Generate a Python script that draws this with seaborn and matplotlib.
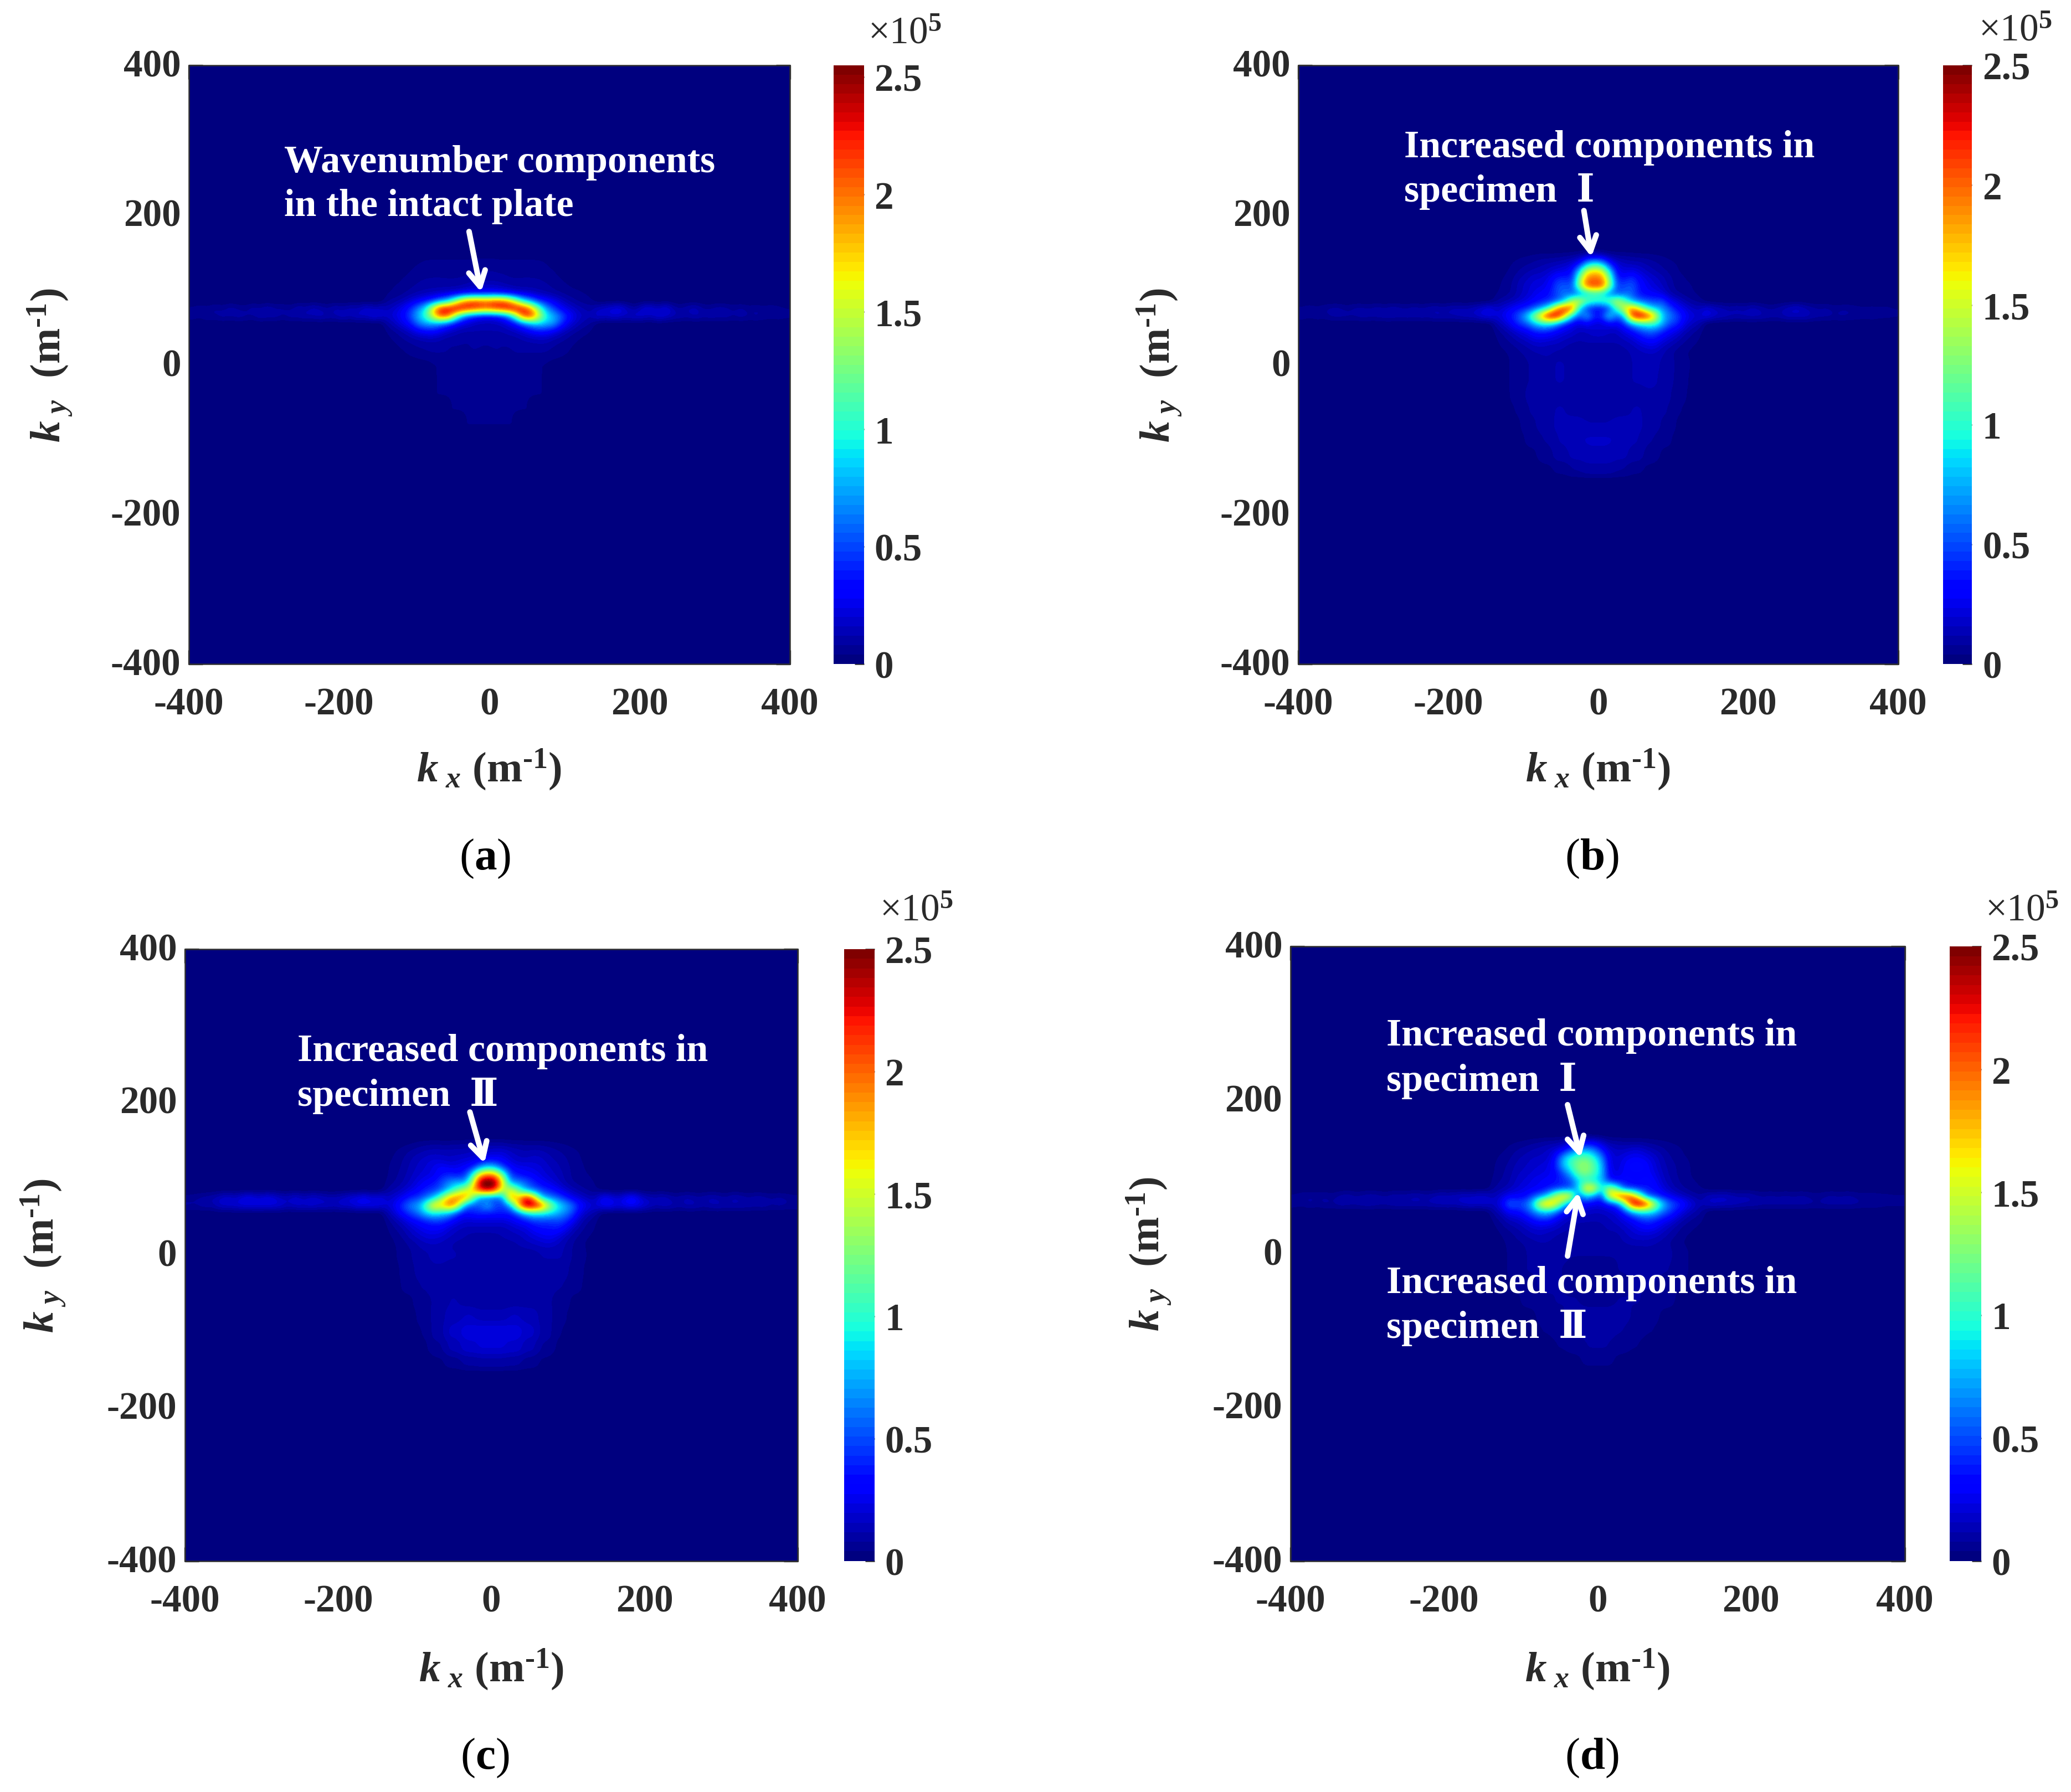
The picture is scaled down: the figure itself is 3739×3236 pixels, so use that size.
import numpy as np
import matplotlib
matplotlib.use("Agg")
import matplotlib.pyplot as plt
from matplotlib.transforms import ScaledTranslation
import seaborn as sns

sns.set_theme(style="white")
plt.rcParams['font.family'] = ['Liberation Serif', 'DejaVu Serif', 'Noto Sans CJK SC']
plt.rcParams['mathtext.fontset'] = 'custom'
plt.rcParams['mathtext.rm'] = 'Liberation Serif:bold'
plt.rcParams['mathtext.it'] = 'Liberation Serif:italic:bold'
plt.rcParams['mathtext.bf'] = 'Liberation Serif:bold'

# values x 1e5. Central blocks: ky 145..15 (step 10), kx -135..135 (step 10)
block_a = [
[.0,.01,.01,.02,.02,.03,.03,.03,.03,.03,.03,.03,.03,.03,.03,.03,.03,.03,.03,.03,.03,.03,.02,.02,.01,.01,.0,.0],
[.01,.01,.02,.03,.04,.05,.05,.05,.05,.05,.05,.05,.06,.06,.06,.05,.05,.05,.05,.05,.05,.04,.03,.03,.02,.01,.01,.0],
[.01,.02,.03,.04,.05,.06,.07,.07,.06,.06,.07,.07,.08,.08,.08,.07,.07,.06,.07,.07,.06,.05,.04,.03,.02,.01,.01,.01],
[.02,.03,.04,.05,.07,.08,.08,.08,.08,.08,.08,.1,.1,.1,.1,.1,.08,.08,.08,.08,.08,.07,.05,.04,.03,.02,.02,.01],
[.03,.04,.05,.07,.09,.1,.1,.1,.1,.1,.12,.14,.16,.16,.16,.14,.12,.1,.1,.1,.1,.09,.07,.05,.04,.03,.03,.02],
[.04,.05,.07,.1,.12,.14,.16,.18,.2,.22,.25,.3,.32,.34,.34,.32,.28,.22,.2,.18,.14,.12,.1,.08,.06,.05,.04,.03],
[.08,.1,.14,.2,.28,.36,.45,.65,.85,1.35,1.9,2.1,2.15,2.05,2.15,2.15,1.95,1.45,.95,.7,.45,.36,.26,.18,.12,.08,.06,.05],
[.14,.2,.28,.42,.65,.95,1.7,2.35,2.4,2.5,2.4,2.3,2.2,2.1,2.2,2.3,2.4,2.45,2.35,1.95,1.3,.75,.5,.3,.22,.16,.12,.1],
[.18,.24,.32,.5,.8,1.05,1.6,2.15,2.1,1.3,.7,.45,.32,.28,.28,.36,.6,1.2,2.15,2.25,1.65,1.0,.8,.6,.36,.22,.16,.12],
[.1,.16,.26,.36,.6,.75,.75,.65,.5,.32,.22,.18,.14,.14,.14,.16,.22,.34,.55,.75,.9,.8,.75,.45,.26,.16,.1,.08],
[.05,.08,.12,.18,.28,.32,.35,.26,.18,.14,.12,.12,.12,.12,.12,.12,.14,.16,.22,.3,.36,.36,.28,.18,.12,.08,.06,.04],
[.03,.05,.08,.1,.12,.14,.14,.12,.1,.1,.08,.08,.1,.08,.1,.08,.1,.1,.12,.14,.16,.16,.12,.1,.07,.05,.03,.02],
[.02,.03,.05,.07,.08,.09,.1,.1,.08,.08,.08,.08,.08,.08,.08,.08,.08,.1,.1,.1,.1,.1,.08,.06,.05,.03,.02,.01],
[.01,.02,.03,.05,.06,.07,.08,.08,.08,.06,.06,.08,.08,.06,.08,.08,.06,.08,.08,.08,.08,.08,.06,.05,.04,.02,.01,.01],
]
block_b = [
[.0,.01,.02,.03,.04,.05,.06,.06,.06,.07,.08,.1,.15,.2,.16,.1,.08,.08,.07,.06,.06,.05,.04,.03,.02,.01,.0,.0],
[.01,.02,.04,.06,.07,.09,.11,.12,.14,.16,.2,.32,.75,.95,.8,.38,.2,.16,.14,.14,.11,.09,.07,.05,.04,.02,.01,.0],
[.02,.03,.05,.08,.11,.13,.14,.18,.22,.24,.32,.85,1.55,1.7,1.6,.9,.28,.22,.25,.2,.15,.12,.09,.07,.04,.03,.02,.01],
[.03,.04,.07,.12,.15,.2,.2,.26,.4,.42,.38,1.25,1.95,2.0,1.95,1.25,.38,.35,.45,.3,.22,.18,.14,.09,.06,.04,.03,.02],
[.03,.05,.08,.14,.18,.22,.22,.3,.5,.55,.5,1.35,2.05,2.15,2.1,1.35,.5,.5,.55,.35,.26,.2,.16,.1,.06,.05,.04,.03],
[.04,.06,.08,.14,.18,.25,.3,.35,.5,.6,.5,.55,.8,.95,.85,.55,.45,.55,.55,.35,.3,.28,.22,.12,.08,.06,.04,.03],
[.08,.1,.14,.18,.24,.3,.35,.4,.5,.75,1.45,1.6,1.2,1.1,1.1,1.2,1.55,1.15,.7,.55,.5,.45,.5,.28,.2,.12,.08,.06],
[.16,.22,.28,.35,.4,.55,.75,1.1,1.9,2.3,2.1,.85,.4,.28,.28,.45,1.1,1.6,2.0,1.55,1.05,.8,.7,.5,.32,.24,.16,.14],
[.2,.28,.38,.55,.85,1.35,1.95,2.5,2.45,1.75,.85,.5,.8,.4,.45,.95,.5,.85,2.2,2.5,2.3,1.8,.85,.65,.5,.3,.22,.2],
[.12,.18,.3,.45,.55,.8,.95,.95,.7,.4,.28,.2,.3,.2,.2,.3,.28,.42,.75,.95,1.05,1.05,.8,.5,.42,.24,.16,.12],
[.06,.1,.16,.22,.28,.38,.42,.38,.28,.24,.2,.15,.15,.2,.2,.15,.15,.24,.32,.46,.55,.55,.42,.3,.24,.14,.09,.06],
[.04,.07,.1,.15,.18,.24,.24,.22,.2,.16,.14,.12,.14,.14,.14,.14,.14,.16,.2,.28,.36,.36,.26,.2,.14,.09,.06,.04],
[.03,.05,.07,.09,.12,.15,.16,.14,.14,.12,.1,.1,.1,.1,.1,.1,.1,.12,.14,.18,.22,.24,.16,.12,.09,.06,.04,.03],
[.02,.03,.05,.07,.09,.11,.12,.12,.1,.1,.08,.08,.08,.08,.08,.08,.1,.1,.12,.14,.15,.15,.12,.09,.06,.04,.03,.02],
]
block_c = [
[.01,.02,.03,.04,.06,.07,.08,.07,.07,.08,.08,.1,.1,.1,.1,.1,.08,.08,.07,.07,.07,.06,.05,.04,.03,.02,.01,.01],
[.02,.04,.06,.09,.11,.13,.14,.14,.14,.14,.14,.16,.16,.18,.2,.2,.16,.14,.12,.14,.13,.11,.09,.07,.05,.04,.02,.01],
[.03,.05,.08,.12,.15,.18,.2,.18,.16,.18,.2,.22,.25,.3,.3,.28,.2,.16,.16,.18,.17,.13,.11,.09,.06,.04,.03,.02],
[.04,.06,.09,.13,.17,.2,.25,.3,.25,.25,.3,.35,.65,.85,.75,.45,.3,.25,.25,.22,.2,.16,.13,.1,.07,.05,.03,.03],
[.04,.07,.1,.15,.19,.22,.25,.35,.4,.35,.4,.95,1.75,2.0,1.85,1.2,.45,.35,.3,.28,.22,.18,.15,.11,.07,.05,.04,.03],
[.06,.08,.12,.17,.24,.3,.35,.5,.65,.75,.7,1.35,2.5,2.7,2.55,1.6,.7,.65,.55,.4,.3,.24,.18,.12,.08,.06,.05,.04],
[.09,.12,.17,.23,.3,.4,.45,.55,.85,1.15,1.5,1.75,2.2,2.4,2.15,1.4,1.6,1.15,.7,.55,.45,.38,.3,.2,.14,.1,.07,.05],
[.16,.22,.28,.4,.45,.6,.8,1.3,1.8,2.0,1.95,1.3,.6,.5,.45,.7,1.95,1.7,2.35,1.85,.85,.65,.55,.4,.26,.2,.14,.12],
[.2,.28,.48,.65,.75,1.2,1.8,1.75,2.1,1.7,.7,.5,.55,.8,.5,.45,.75,1.8,2.55,2.5,2.2,1.5,1.0,.8,.6,.36,.25,.2],
[.12,.22,.36,.48,.62,.85,.95,.85,.75,.45,.3,.38,.42,.38,.38,.38,.36,.55,.85,.95,.95,.9,.8,.65,.5,.25,.14,.1],
[.06,.12,.18,.28,.33,.4,.45,.45,.35,.25,.2,.2,.2,.2,.2,.2,.25,.3,.35,.45,.45,.45,.48,.45,.3,.14,.08,.05],
[.04,.08,.12,.18,.24,.28,.3,.28,.2,.16,.14,.14,.14,.14,.14,.14,.16,.2,.22,.3,.35,.35,.38,.3,.16,.1,.06,.04],
[.03,.05,.09,.14,.18,.22,.22,.2,.16,.14,.12,.1,.1,.1,.1,.12,.14,.14,.18,.22,.25,.28,.24,.16,.1,.07,.04,.03],
[.02,.04,.06,.09,.12,.15,.16,.14,.12,.1,.1,.08,.08,.08,.1,.1,.1,.12,.14,.16,.18,.2,.16,.12,.08,.05,.03,.02],
]
block_d = [
[.01,.02,.03,.04,.05,.07,.08,.1,.1,.12,.16,.22,.26,.26,.18,.1,.1,.08,.08,.08,.07,.06,.05,.04,.03,.02,.01,.01],
[.02,.03,.05,.08,.1,.12,.14,.16,.2,.28,.5,.7,.75,.62,.38,.2,.16,.16,.2,.2,.15,.12,.09,.06,.05,.03,.02,.01],
[.03,.05,.07,.11,.13,.16,.16,.18,.32,.75,1.0,1.15,1.2,1.0,.65,.25,.18,.25,.28,.28,.24,.18,.12,.08,.05,.04,.03,.02],
[.04,.06,.09,.13,.15,.18,.2,.22,.38,.8,1.05,1.3,1.35,1.15,.8,.25,.2,.28,.35,.35,.3,.2,.13,.1,.07,.05,.03,.03],
[.04,.07,.1,.15,.17,.2,.22,.25,.3,.5,.8,1.2,1.3,1.1,.8,.3,.2,.3,.3,.3,.3,.23,.15,.1,.07,.05,.03,.03],
[.06,.08,.11,.17,.2,.25,.28,.3,.35,.4,.5,.85,.95,.85,.8,.35,.3,.35,.3,.3,.35,.28,.17,.12,.08,.05,.04,.03],
[.08,.1,.14,.19,.24,.25,.28,.35,.4,.45,.5,.85,1.75,1.7,.85,1.5,1.1,.45,.4,.35,.35,.33,.22,.14,.1,.07,.05,.04],
[.14,.2,.28,.3,.3,.45,.6,.85,1.45,1.8,1.65,.5,.85,.65,.45,1.65,2.05,2.35,2.0,1.25,.5,.42,.32,.26,.18,.14,.1,.08],
[.16,.28,.6,.5,.55,.85,1.65,1.95,1.7,1.05,.55,.36,.3,.25,.25,.36,.5,1.15,2.4,2.6,2.25,1.4,.85,.55,.45,.3,.2,.12],
[.1,.16,.3,.32,.42,.6,.8,.85,.65,.35,.22,.18,.18,.16,.16,.18,.22,.42,.75,.95,.95,.85,.6,.45,.3,.18,.12,.08],
[.05,.1,.16,.18,.24,.34,.42,.42,.28,.18,.15,.13,.13,.12,.13,.15,.18,.24,.3,.42,.48,.42,.32,.26,.16,.1,.07,.05],
[.03,.06,.1,.12,.16,.2,.22,.2,.18,.14,.12,.1,.1,.1,.1,.14,.14,.18,.22,.28,.32,.28,.2,.14,.09,.06,.04,.03],
[.02,.04,.06,.09,.12,.15,.16,.14,.12,.1,.1,.08,.08,.08,.08,.1,.1,.14,.18,.2,.2,.18,.14,.1,.07,.04,.03,.02],
[.01,.03,.05,.07,.08,.1,.12,.12,.1,.08,.08,.08,.08,.08,.08,.08,.1,.12,.14,.14,.14,.12,.1,.07,.05,.03,.02,.01],
]

# faint lower halo: ky 0..-150 (step 20), kx -130..130 (step 20)
halo_a = [
[.01,.02,.03,.04,.05,.05,.04,.04,.05,.05,.04,.03,.02,.01],
[.01,.02,.03,.04,.04,.04,.04,.04,.04,.04,.04,.03,.02,.01],
[.0,.01,.03,.04,.04,.04,.04,.04,.04,.04,.04,.03,.01,.0],
[.0,.01,.02,.03,.04,.04,.04,.04,.04,.04,.03,.02,.01,.0],
[.0,.01,.02,.03,.03,.04,.04,.04,.04,.03,.03,.02,.01,.0],
[.0,.0,.01,.02,.02,.03,.03,.03,.03,.02,.02,.01,.0,.0],
[0,0,0,.01,.01,.01,.02,.02,.01,.01,.01,0,0,0],
[0,0,0,0,0,0,.01,.01,0,0,0,0,0,0],
]
halo_b = [
[.02,.05,.08,.11,.12,.1,.1,.1,.1,.12,.13,.11,.06,.03],
[.02,.05,.08,.11,.12,.1,.08,.08,.1,.12,.13,.1,.06,.02],
[.02,.05,.09,.11,.1,.08,.08,.08,.08,.1,.11,.09,.05,.02],
[.01,.04,.08,.11,.12,.1,.08,.08,.1,.12,.11,.08,.04,.01],
[.01,.03,.07,.1,.13,.14,.12,.12,.14,.13,.1,.07,.03,.01],
[.0,.02,.05,.08,.12,.15,.16,.16,.15,.12,.08,.05,.02,.0],
[.0,.01,.03,.06,.1,.13,.15,.15,.13,.1,.06,.03,.01,.0],
[0,0,.01,.03,.05,.08,.1,.1,.08,.05,.03,.01,0,0],
]
halo_c = [
[.03,.07,.11,.13,.12,.1,.08,.08,.1,.1,.12,.12,.07,.03],
[.02,.06,.1,.11,.1,.08,.08,.08,.08,.1,.1,.1,.06,.02],
[.02,.05,.08,.11,.1,.08,.08,.08,.08,.08,.1,.08,.05,.02],
[.01,.03,.06,.09,.12,.1,.08,.08,.1,.1,.09,.06,.03,.01],
[.01,.02,.05,.1,.14,.16,.14,.14,.16,.14,.1,.05,.02,.01],
[.0,.01,.04,.1,.17,.22,.22,.22,.22,.17,.1,.04,.01,.0],
[.0,.01,.03,.07,.13,.18,.2,.2,.18,.13,.07,.03,.01,.0],
[0,0,.01,.03,.06,.09,.1,.1,.09,.06,.03,.01,0,0],
]
halo_d = [
[.02,.05,.08,.09,.09,.08,.08,.08,.08,.09,.1,.09,.05,.02],
[.02,.05,.08,.09,.08,.06,.06,.06,.08,.09,.09,.08,.05,.02],
[.01,.04,.06,.09,.08,.06,.06,.06,.06,.08,.08,.06,.04,.01],
[.01,.03,.05,.07,.08,.08,.06,.06,.08,.08,.07,.05,.03,.01],
[.0,.02,.03,.05,.07,.1,.1,.1,.1,.07,.05,.03,.02,.0],
[.0,.01,.02,.04,.05,.08,.1,.1,.08,.05,.04,.02,.01,.0],
[0,0,.01,.02,.04,.05,.08,.08,.05,.04,.02,.01,0,0],
[0,0,0,.01,.02,.03,.05,.05,.03,.02,.01,0,0,0],
]

# horizontal streak: rows ky = 75 and ky = 65; kx -395..-145 and kx 145..395 (step 10)
strip_up_left_a = [.05,.08,.05,.1,.06,.12,.08,.06,.12,.08,.14,.08,.1,.06,.14,.1,.16,.12,.08,.15,.1,.16,.12,.22,.16,.18]
strip_up_right_a = [.16,.2,.24,.26,.14,.08,.22,.24,.15,.26,.12,.08,.14,.16,.08,.08,.12,.1,.07,.1,.06,.08,.06,.08,.06,.04]
strip_lo_left_a = [.08,.05,.1,.07,.12,.08,.12,.1,.07,.14,.1,.12,.07,.12,.1,.14,.12,.16,.12,.12,.18,.12,.2,.16,.24,.2]
strip_lo_right_a = [.22,.16,.22,.18,.16,.22,.18,.14,.24,.18,.14,.12,.1,.14,.1,.13,.1,.12,.08,.12,.08,.1,.08,.06,.08,.06]
strip_up_left_b = [.05,.08,.05,.08,.1,.1,.06,.1,.1,.08,.12,.08,.12,.1,.08,.12,.08,.12,.12,.1,.14,.14,.12,.16,.2,.26]
strip_up_right_b = [.22,.16,.14,.1,.14,.1,.16,.12,.08,.08,.12,.16,.2,.14,.1,.08,.1,.06,.08,.08,.06,.05,.06,.05,.06,.04]
strip_lo_left_b = [.08,.05,.08,.06,.1,.1,.1,.08,.12,.1,.1,.12,.12,.1,.12,.1,.12,.1,.14,.12,.12,.14,.16,.16,.22,.24]
strip_lo_right_b = [.26,.18,.16,.14,.12,.14,.14,.14,.12,.1,.12,.16,.14,.16,.12,.1,.1,.08,.1,.08,.08,.06,.08,.06,.06,.05]
strip_up_left_c = [.06,.08,.1,.12,.16,.22,.16,.24,.28,.2,.26,.24,.16,.16,.22,.14,.2,.18,.14,.14,.16,.22,.24,.3,.2,.26]
strip_up_right_c = [.3,.26,.18,.3,.36,.2,.14,.14,.16,.1,.1,.14,.1,.1,.14,.12,.08,.14,.12,.08,.12,.1,.08,.1,.08,.06]
strip_lo_left_c = [.1,.08,.12,.1,.18,.18,.2,.22,.22,.24,.22,.22,.2,.14,.18,.18,.2,.16,.18,.14,.2,.18,.26,.24,.26,.22]
strip_lo_right_c = [.28,.3,.22,.28,.3,.24,.18,.12,.16,.14,.1,.14,.14,.1,.12,.14,.12,.12,.12,.12,.1,.12,.08,.1,.08,.08]
strip_up_left_d = [.05,.08,.08,.08,.08,.06,.1,.12,.08,.1,.12,.1,.08,.12,.1,.12,.14,.1,.12,.16,.14,.16,.18,.16,.2,.18]
strip_up_right_d = [.16,.16,.18,.14,.12,.14,.1,.08,.1,.08,.1,.08,.1,.08,.06,.08,.1,.08,.1,.08,.06,.08,.06,.06,.05,.05]
strip_lo_left_d = [.08,.05,.1,.06,.1,.08,.12,.1,.1,.12,.12,.1,.1,.12,.12,.12,.12,.12,.14,.14,.16,.14,.18,.2,.18,.2]
strip_lo_right_d = [.18,.18,.16,.16,.14,.12,.12,.1,.1,.1,.1,.1,.1,.1,.08,.1,.1,.1,.1,.1,.08,.08,.08,.06,.06,.06]

k_ticks = [-400, -200, 0, 200, 400]
cb_ticks = [0, 0.5, 1, 1.5, 2, 2.5]
cb_labels = ['0', '0.5', '1', '1.5', '2', '2.5']
panel_letters = ['a', 'b', 'c', 'd']


def build_grid(block, halo, ul, ur, ll, lr):
    g = np.zeros((80, 80))
    g[25:39, 26:54] = np.array(block)
    g[39:55, 26:54] = np.repeat(np.repeat(np.array(halo), 2, axis=0), 2, axis=1)
    g[32, :26] = ul
    g[32, 54:] = ur
    g[33, :26] = ll
    g[33, 54:] = lr
    return g


grids = [build_grid(block_a, halo_a, strip_up_left_a, strip_up_right_a, strip_lo_left_a, strip_lo_right_a),
         build_grid(block_b, halo_b, strip_up_left_b, strip_up_right_b, strip_lo_left_b, strip_lo_right_b),
         build_grid(block_c, halo_c, strip_up_left_c, strip_up_right_c, strip_lo_left_c, strip_lo_right_c),
         build_grid(block_d, halo_d, strip_up_left_d, strip_up_right_d, strip_lo_left_d, strip_lo_right_d)]

S = 1568.0
H = 1357.0
# layout in the 1568x1357 coordinates: x0, x1, y0, y1, cbx0, cbx1
layout = [(143, 598, 50, 503, 631, 654),
          (983, 1437, 50, 503, 1471, 1493),
          (140, 604, 719, 1182, 639, 662),
          (977, 1442, 717, 1182, 1476, 1500)]
vmaxes = [2.55, 2.5, 2.5, 2.5]
exp_pos = [(685, 26), (1526, 24), (694, 690), (1531, 690)]
letter_pos = [(367, 650), (1205, 650), (367, 1331), (1205, 1331)]
ylab_x = [38, 878, 33, 870]
xlab_y = [583, 583, 1264, 1264]

notes = [
    [(-273, 271, 'Wavenumber components'), (-273, 212, 'in the intact plate')],
    [(-259, 291, 'Increased components in'), (-259, 232, 'specimen  Ⅰ')],
    [(-253, 267, 'Increased components in'), (-253, 209, 'specimen  Ⅱ')],
    [(-275, 284, 'Increased components in'), (-275, 226, 'specimen  Ⅰ'),
     (-275, -38, 'Increased components in'), (-275, -96, 'specimen  Ⅱ')],
]
arrows = [
    [((-27, 178), (-11, 97))],
    [((-19, 206), (-9, 144))],
    [((-28, 187), (-9, 120))],
    [((-39, 194), (-22, 125)), ((-39, -3), (-25, 80))],
]

fig = plt.figure(figsize=(3739 / 300, 3237 / 300), dpi=300)
cmap = plt.get_cmap('jet', 64)
TC = '#2a2a2a'
FS = 16.6
M1 = 'm$^{\\mathrm{‐1}}$'
lift = ScaledTranslation(0, 1.2 / 72, fig.dpi_scale_trans)


def to_cell(k):
    return (np.asarray(k, dtype=float) + 400) / 10.0


def to_row(k):
    return (400 - np.asarray(k, dtype=float)) / 10.0


for i, g in enumerate(grids):
    x0, x1, y0, y1, c0, c1 = layout[i]
    ax = fig.add_axes([x0 / S, 1 - y1 / H, (x1 - x0) / S, (y1 - y0) / H])
    cax = fig.add_axes([c0 / S, 1 - y1 / H, (c1 - c0) / S, (y1 - y0) / H])
    sns.heatmap(g, ax=ax, cbar_ax=cax, cmap=cmap, vmin=0, vmax=vmaxes[i],
                xticklabels=False, yticklabels=False, square=False,
                cbar_kws={'ticks': cb_ticks}, rasterized=True)
    ax.imshow(g, extent=(0, 80, 80, 0), cmap=cmap, vmin=0, vmax=vmaxes[i],
              interpolation='bicubic', aspect='auto', zorder=2)
    ax.set_xlim(0, 80)
    ax.set_ylim(80, 0)
    ax.set_xticks(to_cell(k_ticks))
    ax.set_xticklabels([str(t) for t in k_ticks], fontsize=FS, fontweight='bold', color=TC)
    ax.set_yticks(to_row(k_ticks))
    ax.set_yticklabels([str(t) for t in k_ticks], fontsize=FS, fontweight='bold', color=TC,
                       rotation=0)
    ax.tick_params(axis='x', which='major', direction='in', length=6, width=0.8,
                   color='#303030', pad=10, top=True, bottom=True)
    ax.tick_params(axis='y', which='major', direction='in', length=6, width=0.8,
                   color='#303030', pad=3.5, left=True, right=True)
    for t in ax.xaxis.get_major_ticks() + ax.yaxis.get_major_ticks():
        t.set_zorder(5)
    for lab in ax.get_yticklabels():
        lab.set_transform(lab.get_transform() + lift)
    for s in ax.spines.values():
        s.set_visible(True)
        s.set_color('#303030')
        s.set_linewidth(0.6)
        s.set_zorder(6)

    cax.set_yticklabels(cb_labels, fontsize=FS, fontweight='bold', color=TC)
    cax.tick_params(axis='y', direction='in', length=4, width=0.6, color='#303030', pad=4.5,
                    right=True, left=False)

    for (kx, ky, txt) in notes[i]:
        ax.text(to_cell(kx), to_row(ky), txt, color='white', fontsize=16.8, fontweight='bold',
                ha='left', va='center', zorder=8)
    for (a, b) in arrows[i]:
        ax.annotate('', xy=(to_cell(b[0]), to_row(b[1])), xytext=(to_cell(a[0]), to_row(a[1])),
                    arrowprops=dict(arrowstyle='->,head_length=0.55,head_width=0.3', color='white',
                                    lw=2.4, shrinkA=0, shrinkB=0), zorder=8)

    fig.text(exp_pos[i][0] / S, 1 - exp_pos[i][1] / H, '×10$^{5}$', fontsize=FS, color=TC,
             ha='center', va='center')
    fig.text((x0 + x1) / 2 / S, 1 - xlab_y[i] / H, r'$k_{\ x}$ (' + M1 + ')', fontsize=18.5,
             fontweight='bold', color=TC, ha='center', va='center')
    fig.text(ylab_x[i] / S, 1 - (y0 + y1) / 2 / H, r'$k_{\ y}$  (' + M1 + ')', fontsize=18.5,
             fontweight='bold', color=TC, ha='center', va='center', rotation=90)
    fig.text(letter_pos[i][0] / S, 1 - letter_pos[i][1] / H,
             '($\\mathbf{%s}$)' % panel_letters[i], fontsize=19.5, color='black',
             ha='center', va='center')

fig.savefig('out.png', dpi=300, facecolor='white')
